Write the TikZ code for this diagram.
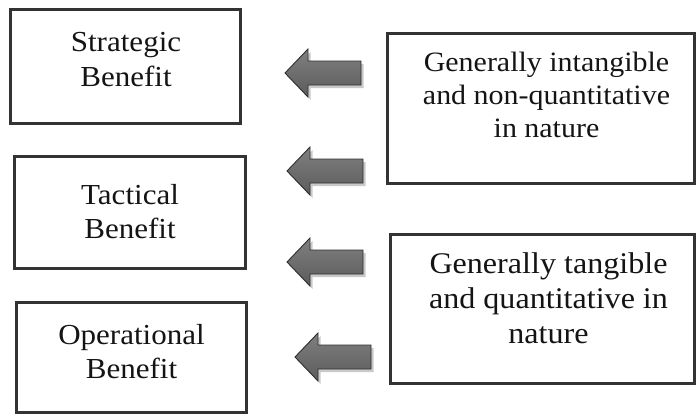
\documentclass[tikz,border=0pt]{standalone}
\usepackage{fontspec}
\setmainfont{Liberation Serif}[FakeStretch=1.07]
\usetikzlibrary{shadows}
\begin{document}
\begin{tikzpicture}[x=1pt,y=-1pt,
  benefitbox/.style={draw=black!80, line width=3pt, rectangle, inner sep=0pt},
  boxtext/.style={align=center, inner sep=0pt, anchor=north, text=black!92},
  arrowbody/.style={draw=black!82, line width=0.9pt, line join=miter,
    top color=black!50, bottom color=black!64,
    drop shadow={shadow xshift=2.5pt, shadow yshift=-3pt, opacity=0.35, fill=black!60}},
  leftarrow/.pic={
    \path[arrowbody] (0,0) -- (23,-24) -- (23,-12) -- (76,-12)
      -- (76,12) -- (23,12) -- (23,24) -- cycle;
  }]
\useasboundingbox[fill=white] (0,0) rectangle (697,416);

% benefit levels on the left
\node[benefitbox, minimum width=230pt, minimum height=114pt] (strategic) at (125.5,66.5) {};
\node[benefitbox, minimum width=231pt, minimum height=112pt] (tactical) at (130,212.5) {};
\node[benefitbox, minimum width=230pt, minimum height=110pt] (operational) at (131.5,357.5) {};

\node[boxtext, font=\fontsize{29}{35}\selectfont] (strategictxt) at (126,32) {Strategic\\Benefit};
\node[boxtext, font=\fontsize{29}{34}\selectfont] (tacticaltxt) at (130,184.5) {Tactical\\Benefit};
\node[boxtext, font=\fontsize{29}{34.5}\selectfont] (operationaltxt) at (131.5,324) {Operational\\Benefit};

% characterisation boxes on the right
\node[benefitbox, minimum width=306.5pt, minimum height=150pt] (intangible) at (540.75,108.5) {};
\node[benefitbox, minimum width=303.5pt, minimum height=149pt] (tangible) at (542.25,309) {};

\node[boxtext, font=\fontsize{28}{33}\selectfont] (intangibletxt) at (546.5,51.5) {Generally intangible\\and non-quantitative\\in nature};
\node[boxtext, font=\fontsize{30}{35}\selectfont] (tangibletxt) at (548.5,252) {Generally tangible\\and quantitative in\\nature};

% block arrows pointing back to the benefit levels
\pic at (285,73) {leftarrow};
\pic at (287,171) {leftarrow};
\pic at (287,262) {leftarrow};
\pic at (295,357) {leftarrow};
\end{tikzpicture}
\end{document}
